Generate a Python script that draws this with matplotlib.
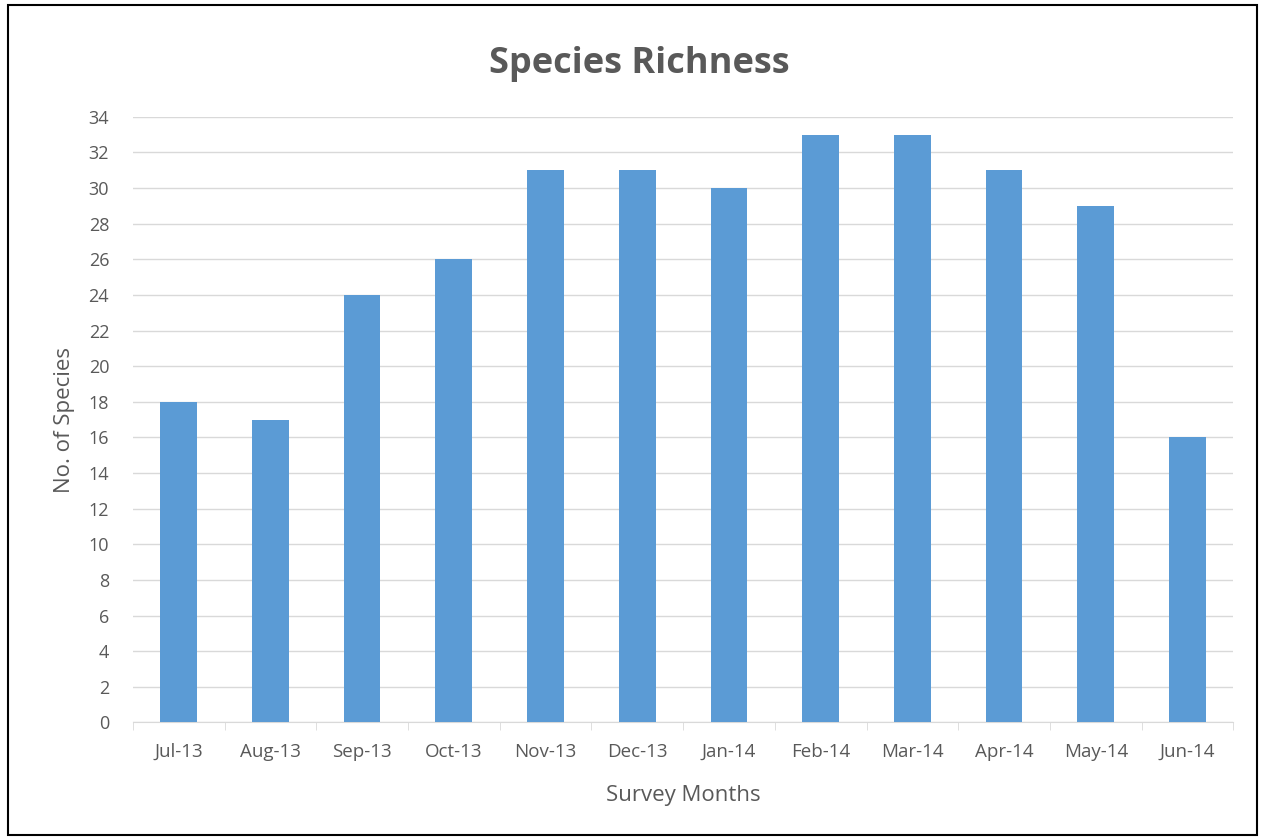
import matplotlib.pyplot as plt
from matplotlib.patches import Rectangle

months = ["Jul-13", "Aug-13", "Sep-13", "Oct-13", "Nov-13", "Dec-13",
          "Jan-14", "Feb-14", "Mar-14", "Apr-14", "May-14", "Jun-14"]
species = [18, 17, 24, 26, 31, 31, 30, 33, 33, 31, 29, 16]
yticks = list(range(0, 35, 2))

plt.rcParams['font.family'] = ['Open Sans', 'DejaVu Sans']
txt = '#595959'

fig = plt.figure(figsize=(12.65, 8.4), dpi=100)
ax = fig.add_axes([0.105, 0.140, 0.870, 0.721])

x = range(len(months))
ax.bar(x, species, width=0.4, color='#5B9BD5', zorder=3)

ax.set_xlim(-0.5, len(months) - 0.5)
ax.set_ylim(0, 34)
ax.set_yticks(yticks)
ax.set_xticks(list(x))
ax.set_xticklabels(months)
ax.tick_params(axis='x', length=0, colors=txt, labelsize=13.5, pad=15)
ax.tick_params(axis='y', length=0, colors=txt, labelsize=13, pad=17)
# small tick marks between categories
ax.set_xticks([i - 0.5 for i in range(len(months) + 1)], minor=True)
ax.tick_params(axis='x', which='minor', length=6, color='#D9D9D9')

ax.grid(axis='y', color='#D9D9D9', linewidth=1, zorder=0)
for s in ['top', 'right', 'left']:
    ax.spines[s].set_visible(False)
ax.spines['bottom'].set_color('#D9D9D9')

ax.set_xlabel("Survey Months", color=txt, fontsize=16, labelpad=17)
ax.set_ylabel("No. of Species", color=txt, fontsize=16, labelpad=10)
fig.text(0.505, 0.924, "Species Richness", ha='center', va='center',
         fontsize=26, fontweight='bold', color=txt)

fig.patches.append(Rectangle((0.006, 0.006), 0.988, 0.988, transform=fig.transFigure,
                             fill=False, edgecolor='black', linewidth=1.5))

fig.savefig("out.png", dpi=100)
